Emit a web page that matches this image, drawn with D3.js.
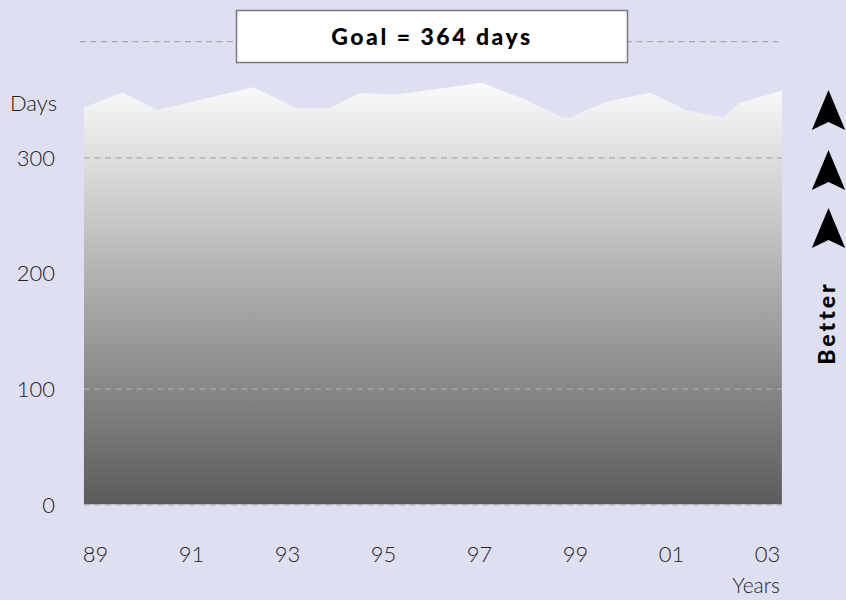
<!DOCTYPE html>
<html>
<head>
<meta charset="utf-8">
<script src="https://cdn.jsdelivr.net/npm/d3@7"></script>
<style>
  html, body { margin: 0; padding: 0; background: #dee0f1; }
  svg { display: block; }
  .lbl { font-family: Lato, "Open Sans", sans-serif; font-weight: 300; fill: #222; }
  .bold { font-family: Lato, "Open Sans", sans-serif; font-weight: 900; fill: #000; }
</style>
</head>
<body>
<svg id="chart" width="846" height="600"></svg>
<script>
// ---- data (decimal year of each vertex, days) ----
const years = [1988.77, 1989.58, 1990.30, 1992.30, 1993.17, 1993.90, 1994.52, 1995.25,
               1997.06, 1998.02, 1998.75, 1998.94, 1999.21, 1999.73, 2000.56, 2001.35,
               2002.08, 2002.44, 2003.31];
const days  = [343.2, 355.8, 340.9, 360.5, 342.9, 342.9, 355.6, 354.1,
               364.5, 348.9, 334.2, 334.2, 340.9, 348.7, 355.8, 340.3,
               334.6, 347.2, 357.6];
const xTickValues = [1989, 1991, 1993, 1995, 1997, 1999, 2001, 2003];
const xTickLabels = ["89", "91", "93", "95", "97", "99", "01", "03"];
const yTickValues = [0, 100, 200, 300];
const goalValue = 400;           // level of the dashed goal line
const goalText = "Goal = 364 days";
const yAxisTitle = "Days";
const xAxisTitle = "Years";
const betterText = "Better";

const data = years.map((y, i) => ({ year: y, days: days[i] }));

const svg = d3.select("#chart");
const W = 846, H = 600;
svg.append("rect").attr("width", W).attr("height", H).attr("fill", "#dee0f1");

const x = d3.scaleLinear().domain([1989, 2003]).range([95, 767]);
const y = d3.scaleLinear().domain([0, 300]).range([504.3, 157.3]);

// gradient
const defs = svg.append("defs");
const grad = defs.append("linearGradient").attr("id", "g")
  .attr("gradientUnits", "userSpaceOnUse")
  .attr("x1", 0).attr("x2", 0).attr("y1", y(365)).attr("y2", y(0));
grad.append("stop").attr("offset", "0%").attr("stop-color", "#fbfbfb");
grad.append("stop").attr("offset", "100%").attr("stop-color", "#5b5b5b");

const area = d3.area()
  .x(d => x(d.year))
  .y0(y(0))
  .y1(d => y(d.days));

svg.append("path").datum(data).attr("d", area).attr("fill", "url(#g)");

// gridlines
const x0 = x(years[0]), x1 = x(years[years.length - 1]);
svg.append("g").selectAll("line").data(yTickValues).join("line")
  .attr("x1", x0).attr("x2", x1)
  .attr("y1", d => y(d) + 0.5).attr("y2", d => y(d) + 0.5)
  .attr("stroke", "#ababab").attr("stroke-width", 1.2)
  .attr("stroke-dasharray", "6,4.5");

// goal line
svg.append("line")
  .attr("x1", 80).attr("x2", 778)
  .attr("y1", y(goalValue)).attr("y2", y(goalValue))
  .attr("stroke", "#a8a8b0").attr("stroke-width", 1.2)
  .attr("stroke-dasharray", "6,4.5");

// goal box
svg.append("rect").attr("x", 236.5).attr("y", 10.5).attr("width", 391).attr("height", 52)
  .attr("fill", "#ffffff").attr("stroke", "#7a7a7a").attr("stroke-width", 1.5);
svg.append("text").attr("class", "bold")
  .attr("x", 432).attr("y", 44.5).attr("text-anchor", "middle")
  .style("font-size", "23px").style("letter-spacing", "2.5px")
  .text(goalText);

// y axis
const yAxis = d3.axisLeft(y).tickValues(yTickValues).tickSize(0).tickPadding(0);
const gy = svg.append("g").attr("transform", "translate(55,0)").call(yAxis);
gy.select(".domain").remove();
gy.selectAll("text").attr("class", "lbl").attr("x", 0).attr("dy", "0.36em")
  .style("font-size", "22px").attr("fill", "#222");

svg.append("text").attr("class", "lbl").attr("x", 57).attr("y", 111)
  .attr("text-anchor", "end").style("font-size", "22px").text(yAxisTitle);

// x axis
const xAxis = d3.axisBottom(x).tickValues(xTickValues)
  .tickFormat((d, i) => xTickLabels[i]).tickSize(0).tickPadding(0);
const gx = svg.append("g").attr("transform", "translate(0,562)").call(xAxis);
gx.select(".domain").remove();
gx.selectAll("text").attr("class", "lbl").attr("y", 0).attr("dy", 0)
  .style("font-size", "22px").attr("fill", "#222");

svg.append("text").attr("class", "lbl").attr("x", 780).attr("y", 593)
  .attr("text-anchor", "end").style("font-size", "21px").text(xAxisTitle);

// arrows
const arrowTips = [90, 150, 208];
const ax = 828.5, hw = 16.7, ah = 40, notch = 8;
svg.append("g").selectAll("path").data(arrowTips).join("path")
  .attr("d", t => {
    const p = d3.path();
    p.moveTo(ax, t);
    p.lineTo(ax + hw, t + ah);
    p.lineTo(ax, t + ah - notch);
    p.lineTo(ax - hw, t + ah);
    p.closePath();
    return p.toString();
  })
  .attr("fill", "#000");

svg.append("text").attr("class", "bold")
  .attr("transform", "translate(835,323) rotate(-90)")
  .attr("text-anchor", "middle")
  .style("font-size", "23px").style("letter-spacing", "3px")
  .text(betterText);
</script>
</body>
</html>
